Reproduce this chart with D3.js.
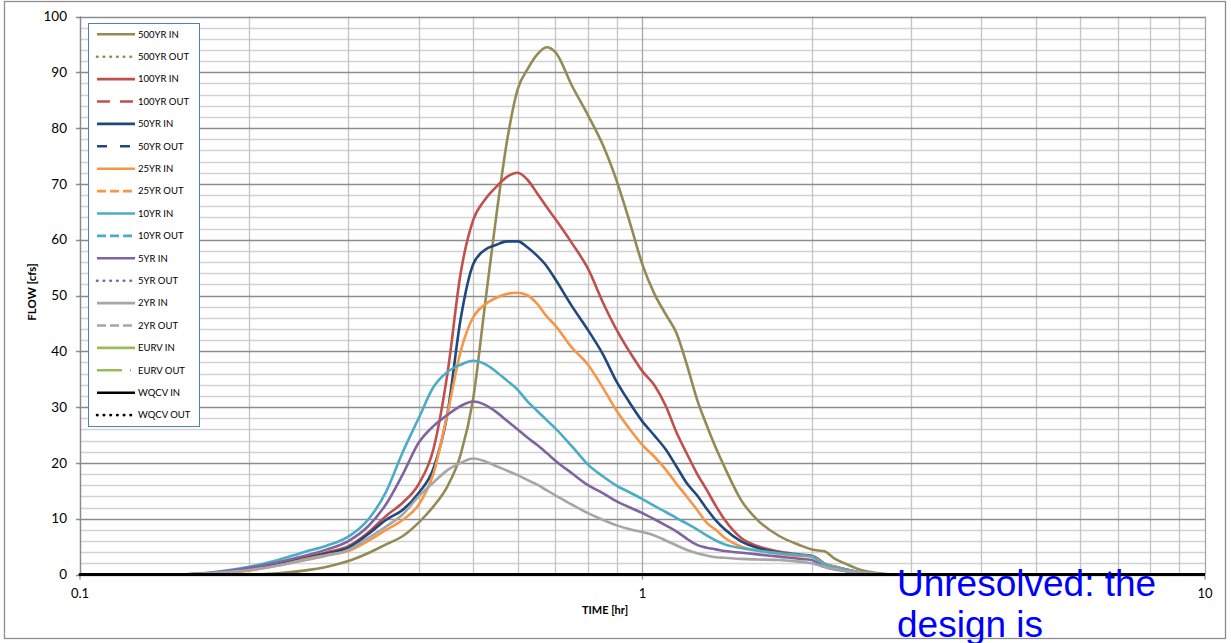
<!DOCTYPE html>
<html>
<head>
<meta charset="utf-8">
<script src="https://cdn.jsdelivr.net/npm/d3@7"></script>
<style>
  html, body { margin: 0; padding: 0; background: #fff; }
  svg { display: block; }
</style>
</head>
<body>
<svg id="chart" width="1231" height="643"></svg>
<script>
// ---------------- DATA ----------------
const timeHr = [0.1, 0.15, 0.175, 0.2, 0.225, 0.25, 0.275, 0.3, 0.325, 0.35, 0.375, 0.4, 0.425, 0.45, 0.475, 0.5,
  0.525, 0.55, 0.575, 0.6, 0.625, 0.65, 0.675, 0.7, 0.75, 0.8, 0.85, 0.9, 0.95, 1.0, 1.05, 1.1, 1.15, 1.2, 1.25,
  1.3, 1.35, 1.4, 1.5, 1.6, 1.75, 1.9, 2.0, 2.05, 2.1, 2.2, 2.3, 2.4, 2.5, 2.65, 2.8, 3.0, 10];

const in500 = [0, 0, 0, 0, 0.2, 0.7, 1.4, 2.4, 3.8, 5.4, 6.9, 9.3, 12.2, 15.8, 21.5, 31.5,
  48.5, 64.5, 78, 87, 90.6, 93.2, 94.5, 93.6, 87.5, 82.3, 77, 70.5, 63, 55.5, 50.3, 46.6, 43.2, 37.5, 31.4,
  26.8, 22.7, 19.2, 13.2, 9.8, 6.9, 5.3, 4.5, 4.3, 4.2, 2.8, 1.9, 1.1, 0.6, 0.2, 0, 0, 0];
const in100 = [0, 0, 0.3, 0.9, 1.8, 3.0, 4.0, 5.1, 7.5, 10.5, 12.9, 16.2, 22.5, 36, 54, 63.5,
  67.2, 69.5, 71.3, 72.0, 70.7, 68.3, 65.9, 63.7, 59.3, 54.8, 48.8, 43.8, 39.8, 36.4, 33.9, 30.2, 25.4, 21.6, 18.1,
  15.2, 12.3, 9.8, 6.5, 5.1, 4.1, 3.6, 3.3, 2.8, 2.0, 1.4, 0.9, 0.5, 0.2, 0, 0, 0, 0];
const in50 = [0, 0, 0.3, 0.9, 1.8, 2.9, 3.8, 4.8, 7.2, 9.8, 11.6, 14.6, 19, 28.8, 45.8, 55.6,
  58.2, 59.1, 59.7, 59.7, 58.6, 57.1, 55.3, 52.9, 48.0, 43.8, 39.5, 34.5, 30.7, 27.4, 24.9, 22.4, 19.3, 16.3, 14.2,
  11.8, 9.7, 8.1, 5.9, 4.8, 3.9, 3.5, 3.3, 2.8, 2.0, 1.4, 0.9, 0.5, 0.2, 0, 0, 0, 0];
const in25 = [0, 0, 0.2, 0.7, 1.6, 2.7, 3.5, 4.2, 6.0, 8.0, 9.8, 12.5, 18.1, 28.8, 40, 46.1,
  48.4, 49.6, 50.3, 50.5, 50.0, 48.5, 46.3, 44.6, 40.6, 37.6, 33.5, 29.3, 26.0, 23.2, 21.1, 18.8, 16.2, 13.9, 11.6,
  9.3, 8.0, 6.6, 5.0, 4.3, 3.7, 3.3, 3.2, 2.7, 2.0, 1.4, 0.9, 0.5, 0.2, 0, 0, 0, 0];
const in10 = [0, 0, 0.5, 1.4, 2.6, 4.0, 5.2, 6.8, 9.8, 14.8, 22, 28, 33.6, 36.3, 37.6, 38.3,
  37.7, 36.3, 34.7, 33.1, 31.0, 29.3, 27.7, 26.2, 22.9, 19.7, 17.6, 15.9, 14.7, 13.5, 12.3, 11.2, 10.1, 9.1, 8.1,
  7.0, 6.1, 5.4, 4.7, 4.3, 3.8, 3.5, 3.3, 2.5, 1.9, 1.3, 0.9, 0.5, 0.2, 0, 0, 0, 0];
const in5 = [0, 0, 0.4, 1.2, 2.2, 3.3, 4.5, 6.0, 8.6, 12.6, 18, 23.6, 26.6, 28.6, 30.2, 31.0,
  30.4, 29.1, 27.5, 26.0, 24.5, 23.2, 21.8, 20.4, 18.1, 16.0, 14.6, 13.1, 12.0, 11.0, 9.9, 8.8, 7.7, 6.4, 5.3,
  4.8, 4.5, 4.2, 3.9, 3.6, 3.2, 2.8, 2.6, 2.0, 1.4, 0.9, 0.6, 0.3, 0.1, 0, 0, 0, 0];
const in2 = [0, 0, 0.3, 0.8, 1.6, 2.5, 3.4, 4.4, 6.5, 8.6, 10.8, 14.0, 16.5, 18.7, 20.0, 20.8,
  20.3, 19.4, 18.6, 17.8, 16.9, 16.1, 15.1, 14.2, 12.5, 11.0, 9.8, 8.8, 8.1, 7.6, 7.0, 6.1, 5.2, 4.4, 3.8,
  3.4, 3.1, 3.0, 2.8, 2.7, 2.6, 2.3, 2.0, 1.7, 1.4, 1.0, 0.6, 0.4, 0.3, 0.1, 0, 0, 0];
const zeroFlow = timeHr.map(() => 0); // OUT, EURV and WQCV series read as 0 cfs

const seriesNames = ["500YR IN", "500YR OUT", "100YR IN", "100YR OUT", "50YR IN", "50YR OUT",
  "25YR IN", "25YR OUT", "10YR IN", "10YR OUT", "5YR IN", "5YR OUT", "2YR IN", "2YR OUT",
  "EURV IN", "EURV OUT", "WQCV IN", "WQCV OUT"];
const seriesValues = [in500, zeroFlow, in100, zeroFlow, in50, zeroFlow, in25, zeroFlow, in10, zeroFlow,
  in5, zeroFlow, in2, zeroFlow, zeroFlow, zeroFlow, zeroFlow, zeroFlow];

const yTicks = [0, 10, 20, 30, 40, 50, 60, 70, 80, 90, 100];
const xTickLabels = [0.1, 1, 10];

// ---------------- STYLE ----------------
const colors = ["#948A54", "#948A54", "#C0504D", "#C0504D", "#1F497D", "#1F497D", "#F79646", "#F79646",
  "#4BACC6", "#4BACC6", "#8064A2", "#8064A2", "#A6A6A6", "#A6A6A6", "#9BBB59", "#9BBB59", "#000000", "#000000"];
const dashes = [null, "0.5,6.2", null, "13,10", null, "10,13", null, "9,4", null, "9,4", null, "0.5,6.2",
  null, "9,4", null, "25,8,1,8", null, "0.5,6.2"];
const caps = dashes.map(d => d === "0.5,6.2" ? "round" : "butt");

const FONT = "Lato, 'Open Sans', 'Liberation Sans', sans-serif";
const svg = d3.select("#chart");

const L = 80, R = 1205, T = 16.5, B = 574.5;
const x = d3.scaleLog().domain([0.1, 10]).range([L, R]);
const y = d3.scaleLinear().domain([0, 100]).range([B, T]);

// outer frame
svg.append("rect").attr("x", 4.5).attr("y", 1.5).attr("width", 1221).attr("height", 637)
  .attr("fill", "#fff").attr("stroke", "#8c8c8c").attr("stroke-width", 1.3);

// horizontal gridlines (minor every 2, major every 10)
const gGrid = svg.append("g");
const hMinor = d3.range(0, 101, 2);
gGrid.selectAll("line.hmin").data(hMinor.filter(v => v % 10 !== 0)).join("line")
  .attr("x1", L).attr("x2", R).attr("y1", d => Math.round(y(d)) + 0.5).attr("y2", d => Math.round(y(d)) + 0.5)
  .attr("stroke", "#d2d2d2").attr("stroke-width", 1.3);
// vertical gridlines
const vTicks = x.ticks();
gGrid.selectAll("line.v").data(vTicks).join("line")
  .attr("x1", d => Math.round(x(d)) + 0.5).attr("x2", d => Math.round(x(d)) + 0.5)
  .attr("y1", T).attr("y2", B)
  .attr("stroke", d => [0.1, 1, 10].includes(+d.toPrecision(3)) ? "#a6a6a6" : "#c4c4c4").attr("stroke-width", 1.3);
gGrid.selectAll("line.hmaj").data(yTicks).join("line")
  .attr("x1", L - 4).attr("x2", R).attr("y1", d => Math.round(y(d)) + 0.5).attr("y2", d => Math.round(y(d)) + 0.5)
  .attr("stroke", "#8c8c8c").attr("stroke-width", 1.3);
// y axis line
svg.append("line").attr("x1", L + 0.5).attr("x2", L + 0.5).attr("y1", T).attr("y2", B)
  .attr("stroke", "#8c8c8c").attr("stroke-width", 1.3);

// y tick labels
svg.append("g").selectAll("text").data(yTicks).join("text")
  .attr("x", 67).attr("y", d => y(d)).attr("dy", "0.35em").attr("text-anchor", "end")
  .attr("font-family", FONT).attr("font-size", 13.5).attr("fill", "#000").text(d => d);
// x ticks + labels
svg.append("g").selectAll("line").data(xTickLabels).join("line")
  .attr("x1", d => x(d)).attr("x2", d => x(d)).attr("y1", B).attr("y2", B + 5)
  .attr("stroke", "#8c8c8c").attr("stroke-width", 1.3);
svg.append("g").selectAll("text").data(xTickLabels).join("text")
  .attr("x", d => x(d)).attr("y", 598).attr("text-anchor", "middle")
  .attr("font-family", FONT).attr("font-size", 13).attr("fill", "#000").text(d => d);

// axis titles
svg.append("text").attr("transform", "translate(36,292) rotate(-90)").attr("text-anchor", "middle")
  .attr("font-family", FONT).attr("font-weight", "bold").attr("font-size", 11.5).text("FLOW [cfs]");
svg.append("text").attr("x", 605).attr("y", 614).attr("text-anchor", "middle")
  .attr("font-family", FONT).attr("font-weight", "bold").attr("font-size", 11).text("TIME [hr]");

// series
const line = d3.line().x(d => x(d[0])).y(d => y(d[1])).curve(d3.curveMonotoneX);
const gS = svg.append("g");
seriesValues.forEach((vals, i) => {
  const pts = timeHr.map((t, k) => [t, vals[k]]);
  gS.append("path").attr("d", line(pts)).attr("fill", "none")
    .attr("stroke", colors[i]).attr("stroke-width", i >= 16 ? 3 : 2.6)
    .attr("stroke-dasharray", dashes[i]).attr("stroke-linecap", caps[i])
    .attr("stroke-linejoin", "round");
});

// legend
const lg = svg.append("g");
lg.append("rect").attr("x", 88.5).attr("y", 23.5).attr("width", 111).attr("height", 403)
  .attr("fill", "#fff").attr("stroke", "#4F81BD").attr("stroke-width", 1);
seriesNames.forEach((name, i) => {
  const cy = 34.3 + i * 22.4;
  lg.append("line").attr("x1", 97).attr("x2", 135).attr("y1", cy).attr("y2", cy)
    .attr("stroke", colors[i]).attr("stroke-width", 2.6)
    .attr("stroke-dasharray", dashes[i]).attr("stroke-linecap", caps[i]);
  lg.append("text").attr("x", 138).attr("y", cy).attr("dy", "0.35em")
    .attr("font-family", FONT).attr("font-size", 9.5).attr("fill", "#000").text(name);
});

// overlay note (clipped by the bottom edge, as in the reference)
const note = svg.append("text").attr("font-family", "'Liberation Sans', Arial, sans-serif")
  .attr("font-size", 37).attr("fill", "#0000FF");
note.append("tspan").attr("x", 897).attr("y", 596).text("Unresolved: the");
note.append("tspan").attr("x", 897).attr("y", 637).text("design is");
</script>
</body>
</html>
